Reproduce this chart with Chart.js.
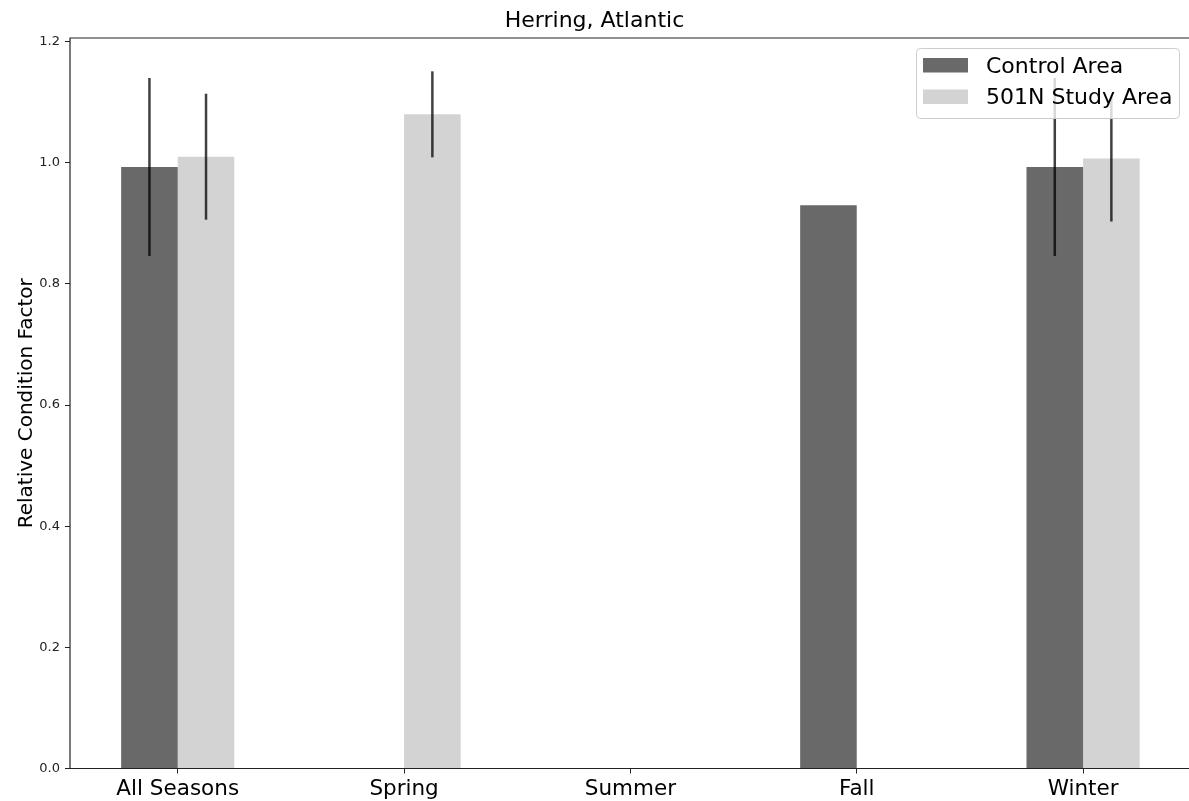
<!DOCTYPE html>
<html>
<head>
<meta charset="utf-8">
<title>Herring, Atlantic</title>
<script src="https://cdn.jsdelivr.net/npm/chart.js@4.4.1/dist/chart.umd.min.js"></script>
<style>
  html, body { margin: 0; padding: 0; background: #fff; overflow: hidden; }
  #chart { display: block; }
</style>
</head>
<body>
<canvas id="chart" width="1189" height="801"></canvas>
<script>
// Data
const categories = ['All Seasons', 'Spring', 'Summer', 'Fall', 'Winter'];
const controlMeans = [0.993, null, null, 0.930, 0.993];
const controlErr = [0.147, null, null, null, 0.147];
const studyMeans = [1.010, 1.080, null, null, 1.007];
const studyErr = [0.104, 0.071, null, null, 0.104];
const yTicks = [0.0, 0.2, 0.4, 0.6, 0.8, 1.0, 1.2];

const seriesLabels = ['Control Area', '501N Study Area'];
const seriesColors = ['#696969', '#d3d3d3'];
const errors = [controlErr, studyErr];

const FONT = "'DejaVu Sans', sans-serif";

const toPoints = vals => vals.map((v, i) => ({ x: i, y: v }));

// Error bars, drawn after the bars
const errorBars = {
    id: 'errorBars',
    afterDatasetsDraw(chart) {
        const ctx = chart.ctx;
        const yScale = chart.scales.y;
        ctx.save();
        ctx.strokeStyle = 'rgba(0, 0, 0, 0.75)';
        ctx.lineWidth = 2.5;
        chart.data.datasets.forEach((ds, d) => {
            const meta = chart.getDatasetMeta(d);
            errors[d].forEach((e, i) => {
                const v = ds.data[i].y;
                if (e == null || v == null) return;
                const x = meta.data[i].x;
                ctx.beginPath();
                ctx.moveTo(x, yScale.getPixelForValue(v + e));
                ctx.lineTo(x, yScale.getPixelForValue(v - e));
                ctx.stroke();
            });
        });
        ctx.restore();
    }
};

// Spines (left, top, bottom) and a matplotlib-style legend box
const frameAndLegend = {
    id: 'frameAndLegend',
    afterDraw(chart) {
        const ctx = chart.ctx;
        const a = chart.chartArea;
        ctx.save();
        ctx.strokeStyle = '#222';
        ctx.lineWidth = 1.2;
        ctx.beginPath();
        ctx.moveTo(a.right + 2, a.top);
        ctx.lineTo(a.left, a.top);
        ctx.lineTo(a.left, a.bottom);
        ctx.lineTo(a.right + 2, a.bottom);
        ctx.stroke();

        // legend
        const bx = 916.5, by = 48.5, bw = 263, bh = 70;
        ctx.beginPath();
        ctx.roundRect(bx, by, bw, bh, 4);
        ctx.fillStyle = 'rgba(255, 255, 255, 0.8)';
        ctx.fill();
        ctx.strokeStyle = '#cccccc';
        ctx.lineWidth = 1;
        ctx.stroke();

        ctx.font = '22px ' + FONT;
        ctx.textBaseline = 'alphabetic';
        ctx.textAlign = 'left';
        chart.data.datasets.forEach((ds, d) => {
            const rowY = 58 + d * 31.5;
            ctx.fillStyle = ds.backgroundColor;
            ctx.fillRect(923, rowY, 45, 14.5);
            ctx.fillStyle = '#000';
            ctx.fillText(ds.label, 986, rowY + 14.8);
        });
        ctx.restore();
    }
};

new Chart(document.getElementById('chart'), {
    type: 'bar',
    data: {
        datasets: [
            {
                label: seriesLabels[0],
                data: toPoints(controlMeans),
                backgroundColor: seriesColors[0],
                borderWidth: 0
            },
            {
                label: seriesLabels[1],
                data: toPoints(studyMeans),
                backgroundColor: seriesColors[1],
                borderWidth: 0
            }
        ]
    },
    options: {
        responsive: false,
        animation: false,
        devicePixelRatio: 1,
        layout: { padding: 0 },
        datasets: {
            bar: {
                categoryPercentage: 0.5,
                barPercentage: 1.0,
                grouped: true
            }
        },
        scales: {
            x: {
                type: 'linear',
                offset: false,
                min: -0.476,
                max: 4.468,
                afterBuildTicks: s => { s.ticks = categories.map((c, i) => ({ value: i })); },
                afterFit: s => { s.height = 32.5; },
                ticks: {
                    callback: v => categories[v],
                    color: '#000',
                    padding: 3,
                    maxRotation: 0,
                    autoSkip: false,
                    font: { family: FONT, size: 21.5 }
                },
                grid: {
                    offset: false,
                    drawOnChartArea: false,
                    drawTicks: true,
                    tickLength: 5,
                    tickColor: '#222',
                    lineWidth: 1
                },
                border: { display: false }
            },
            y: {
                min: 0,
                max: 1.206,
                afterBuildTicks: s => { s.ticks = yTicks.map(v => ({ value: v })); },
                afterFit: s => { s.width = 70; },
                ticks: {
                    callback: v => v.toFixed(1),
                    color: '#222',
                    padding: 5,
                    font: { family: FONT, size: 13 }
                },
                grid: {
                    drawOnChartArea: false,
                    drawTicks: true,
                    tickLength: 5,
                    tickColor: '#222',
                    lineWidth: 1
                },
                border: { display: false },
                title: {
                    display: true,
                    text: 'Relative Condition Factor',
                    color: '#000',
                    padding: { top: 15 },
                    font: { family: FONT, size: 20 }
                }
            }
        },
        plugins: {
            legend: { display: false },
            tooltip: { enabled: false },
            title: {
                display: true,
                text: 'Herring, Atlantic',
                color: '#000',
                padding: { top: 8, bottom: 3.6 },
                font: { family: FONT, size: 22, weight: 'normal' }
            }
        }
    },
    plugins: [errorBars, frameAndLegend]
});
</script>
</body>
</html>
